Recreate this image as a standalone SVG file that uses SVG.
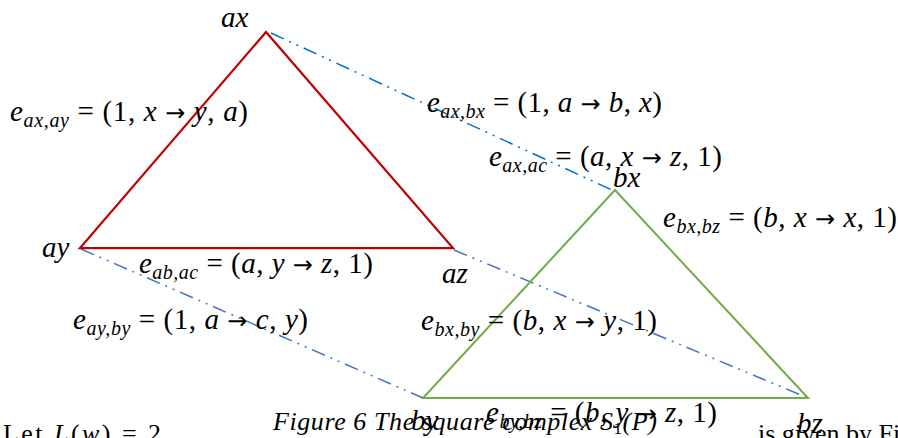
<svg xmlns="http://www.w3.org/2000/svg" width="898" height="438" viewBox="0 0 898 438">
<style>
.m{font-family:"Liberation Serif","DejaVu Serif",serif;font-size:29px;fill:#000}
.i{font-style:italic}
.s{font-size:20px}
.ar{font-family:"DejaVu Sans",sans-serif;font-size:24px}
.cap{font-family:"Liberation Serif","DejaVu Serif",serif;font-size:26px;fill:#000}
.dd{fill:none;stroke-width:1.5;stroke-dasharray:14 6 2 6 2 6}
</style>
<rect width="898" height="438" fill="#fff"/>
<g id="connectors">
<line class="dd" x1="271" y1="33" x2="612" y2="190" stroke="#0070C0"/>
<line class="dd" x1="81" y1="249" x2="423" y2="398" stroke="#4472C4"/>
<line class="dd" x1="454" y1="250" x2="808" y2="398" stroke="#4472C4"/>
</g>
<g id="triangle-a">
<polygon points="266,32 80,248 453,248" fill="none" stroke="#C00000" stroke-width="2.25" stroke-linejoin="miter"/>
</g>
<g id="triangle-b">
<polygon points="615,190 423,398 808,398" fill="none" stroke="#70AD47" stroke-width="2" stroke-linejoin="miter"/>
</g>
<g id="node-ax"><text class="m i" x="221" y="27">ax</text></g>
<g id="node-ay"><text class="m i" x="42" y="257">ay</text></g>
<g id="node-az"><text class="m i" x="442" y="283">az</text></g>
<g id="node-bx"><text class="m i" x="613" y="187">bx</text></g>
<g id="node-by"><text class="m i" x="411" y="430">by</text></g>
<g id="node-bz"><text class="m i" x="797" y="433">bz</text></g>
<g id="edge-labels">
<text class="m" x="10" y="121" textLength="238" lengthAdjust="spacing"><tspan class="i">e</tspan><tspan class="i s" dy="6">ax,ay</tspan><tspan dy="-6"> = (1, </tspan><tspan class="i">x</tspan> <tspan class="ar">→</tspan> <tspan class="i">y</tspan>, <tspan class="i">a</tspan>)</text>
<text class="m" x="427" y="112" textLength="235" lengthAdjust="spacing"><tspan class="i">e</tspan><tspan class="i s" dy="6">ax,bx</tspan><tspan dy="-6"> = (1, </tspan><tspan class="i">a</tspan> <tspan class="ar">→</tspan> <tspan class="i">b</tspan>, <tspan class="i">x</tspan>)</text>
<text class="m" x="489" y="166" textLength="233" lengthAdjust="spacing"><tspan class="i">e</tspan><tspan class="i s" dy="6">ax,ac</tspan><tspan dy="-6"> = (</tspan><tspan class="i">a</tspan>, <tspan class="i">x</tspan> <tspan class="ar">→</tspan> <tspan class="i">z</tspan>, 1)</text>
<text class="m" x="663" y="227" textLength="234" lengthAdjust="spacing"><tspan class="i">e</tspan><tspan class="i s" dy="6">bx,bz</tspan><tspan dy="-6"> = (</tspan><tspan class="i">b</tspan>, <tspan class="i">x</tspan> <tspan class="ar">→</tspan> <tspan class="i">x</tspan>, 1)</text>
<text class="m" x="139" y="273" textLength="234" lengthAdjust="spacing"><tspan class="i">e</tspan><tspan class="i s" dy="6">ab,ac</tspan><tspan dy="-6"> = (</tspan><tspan class="i">a</tspan>, <tspan class="i">y</tspan> <tspan class="ar">→</tspan> <tspan class="i">z</tspan>, 1)</text>
<text class="m" x="73" y="329" textLength="235" lengthAdjust="spacing"><tspan class="i">e</tspan><tspan class="i s" dy="6">ay,by</tspan><tspan dy="-6"> = (1, </tspan><tspan class="i">a</tspan> <tspan class="ar">→</tspan> <tspan class="i">c</tspan>, <tspan class="i">y</tspan>)</text>
<text class="m" x="421" y="330" textLength="236" lengthAdjust="spacing"><tspan class="i">e</tspan><tspan class="i s" dy="6">bx,by</tspan><tspan dy="-6"> = (</tspan><tspan class="i">b</tspan>, <tspan class="i">x</tspan> <tspan class="ar">→</tspan> <tspan class="i">y</tspan>, 1)</text>
<text class="m" x="486" y="422" textLength="231" lengthAdjust="spacing"><tspan class="i">e</tspan><tspan class="i s" dy="6">by,bz</tspan><tspan dy="-6"> = (</tspan><tspan class="i">b</tspan>, <tspan class="i">y</tspan> <tspan class="ar">→</tspan> <tspan class="i">z</tspan>, 1)</text>
</g>
<g id="caption">
<text class="cap i" x="273" y="430" textLength="384" lengthAdjust="spacing">Figure 6 The square complex S<tspan font-style="normal" font-size="17" dy="4">1</tspan><tspan dy="-4">(P)</tspan></text>
<text class="cap" x="3" y="442" textLength="158" lengthAdjust="spacing">Let <tspan class="i">L</tspan>(<tspan class="i">w</tspan>) = 2</text>
<text class="cap" x="758" y="442">is given by Fi</text>
</g>
</svg>
